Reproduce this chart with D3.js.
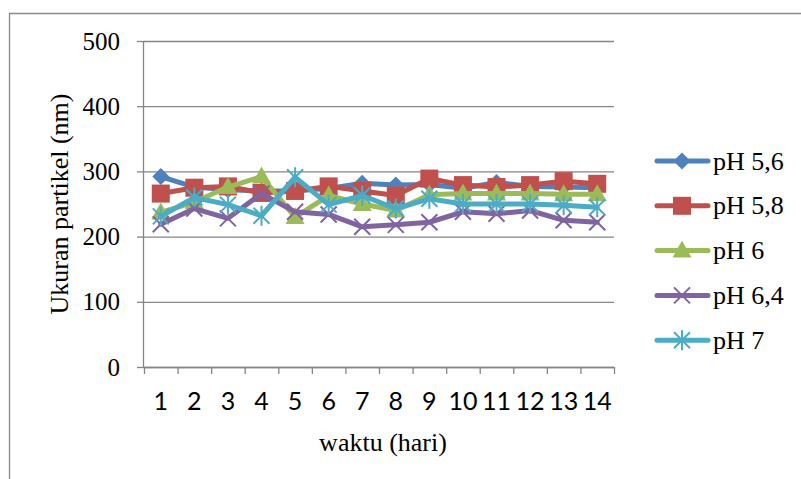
<!DOCTYPE html>
<html>
<head>
<meta charset="utf-8">
<script src="https://cdn.jsdelivr.net/npm/d3@7/dist/d3.min.js"></script>
<style>
  html, body { margin: 0; padding: 0; background: #ffffff; }
  svg { display: block; }
  .serif { font-family: "Liberation Serif", "Times New Roman", Tinos, "DejaVu Serif", serif; }
  .sans { font-family: Lato, "Open Sans", "Liberation Sans", sans-serif; }
</style>
</head>
<body>
<svg id="chart" width="801" height="479"></svg>
<script>
// Particle size (nm) measured over 14 days for five pH levels
const days = [1, 2, 3, 4, 5, 6, 7, 8, 9, 10, 11, 12, 13, 14];
const seriesNames = ["pH 5,6", "pH 5,8", "pH 6", "pH 6,4", "pH 7"];
const ph56 = [292, 276, 272, 270, 270, 274, 282, 279, 280, 274, 283, 277, 276, 275];
const ph58 = [266, 275, 277, 267, 270, 277, 270, 263, 289, 279, 276, 279, 285, 281];
const ph6  = [237, 253, 276, 292, 230, 263, 250, 240, 264, 266, 266, 266, 265, 265];
const ph64 = [219, 243, 228, 266, 238, 234, 215, 218, 222, 238, 235, 240, 225, 222];
const ph7  = [231, 260, 249, 232, 291, 249, 263, 243, 258, 250, 250, 250, 248, 245];
const yTicks = [0, 100, 200, 300, 400, 500];

const colors = ["#4F81BD", "#C0504D", "#9BBB59", "#8064A2", "#4BACC6"];
const shapes = ["diamond", "square", "triangle", "cross", "star"];
const values = [ph56, ph58, ph6, ph64, ph7];
const series = seriesNames.map((name, i) => ({
  name, color: colors[i], shape: shapes[i],
  points: days.map((d, j) => ({ day: d, v: values[i][j] }))
}));

const svg = d3.select("#chart");
const gray = "#868686";

// chart frame (top and left edges visible)
svg.append("path")
  .attr("d", "M9.5,479 V13.5 H801")
  .attr("fill", "none").attr("stroke", "#8a8a8a").attr("stroke-width", 1.3);

const plot = { left: 144, right: 614, top: 41, bottom: 367 };

const x = d3.scaleBand().domain(days).range([plot.left, plot.right]).padding(0);
const xEdges = d3.scaleLinear().domain([0, days.length]).range([plot.left, plot.right]);
const y = d3.scaleLinear().domain([0, 500]).range([plot.bottom, plot.top]);

// horizontal gridlines
svg.append("g")
  .attr("transform", `translate(${plot.left},0)`)
  .call(d3.axisLeft(y).tickValues(yTicks).tickSize(-(plot.right - plot.left)).tickFormat(""))
  .call(g => g.select(".domain").remove())
  .call(g => g.selectAll("line").attr("stroke", gray).attr("stroke-width", 1.3));

// y axis with labels
svg.append("g")
  .attr("transform", `translate(${plot.left},0)`)
  .call(d3.axisLeft(y).tickValues(yTicks).tickSize(7).tickPadding(17))
  .attr("font-family", null).attr("font-size", null)
  .call(g => g.select(".domain").attr("stroke", gray).attr("stroke-width", 1.3)
    .attr("d", `M-0.5,${plot.bottom}V${plot.top}`))
  .call(g => g.selectAll("line").attr("stroke", gray).attr("stroke-width", 1.3))
  .call(g => g.selectAll("text").attr("class", "serif").style("font-size", "25px")
    .attr("fill", "#000"));

// x axis: tick marks at category edges
svg.append("g")
  .attr("transform", `translate(0,${plot.bottom})`)
  .call(d3.axisBottom(xEdges).tickValues(d3.range(days.length + 1)).tickSize(7).tickFormat(""))
  .call(g => g.select(".domain").attr("stroke", gray).attr("stroke-width", 1.3)
    .attr("d", `M${plot.left},0.5H${plot.right}`))
  .call(g => g.selectAll("line").attr("stroke", gray).attr("stroke-width", 1.3));

// x axis: category labels at band centers
svg.append("g")
  .attr("transform", `translate(0,${plot.bottom})`)
  .call(d3.axisBottom(x).tickSize(0).tickPadding(25))
  .attr("font-family", null).attr("font-size", null)
  .call(g => g.select(".domain").remove())
  .call(g => g.selectAll("text").attr("class", "sans").style("font-size", "25px")
    .attr("fill", "#000"));

// axis titles
svg.append("text")
  .attr("class", "serif")
  .attr("x", (plot.left + plot.right) / 2 + 4).attr("y", 451)
  .attr("text-anchor", "middle")
  .style("font-size", "26px").attr("fill", "#000")
  .text("waktu (hari)");

svg.append("text")
  .attr("class", "serif")
  .attr("transform", "translate(68,204) rotate(-90)")
  .attr("text-anchor", "middle")
  .style("font-size", "26px").attr("fill", "#000")
  .text("Ukuran partikel (nm)");

// marker drawing
function drawMarker(sel, shape, color) {
  if (shape === "diamond") {
    sel.append("path").attr("d", "M0,-8.5 L8.5,0 L0,8.5 L-8.5,0 Z").attr("fill", color);
  } else if (shape === "square") {
    sel.append("rect").attr("x", -9).attr("y", -9).attr("width", 18).attr("height", 18)
      .attr("fill", color);
  } else if (shape === "triangle") {
    sel.append("path").attr("d", "M0,-10 L9.5,7 L-9.5,7 Z").attr("fill", color);
  } else if (shape === "cross") {
    sel.append("path").attr("d", "M-8,-8 L8,8 M-8,8 L8,-8")
      .attr("stroke", color).attr("stroke-width", 2).attr("fill", "none");
  } else if (shape === "star") {
    sel.append("path").attr("d", "M-8,-8 L8,8 M-8,8 L8,-8 M0,-10 V10")
      .attr("stroke", color).attr("stroke-width", 2).attr("fill", "none");
  }
}

const line = d3.line()
  .x(d => x(d.day) + x.bandwidth() / 2)
  .y(d => y(d.v));

series.forEach(s => {
  const g = svg.append("g");
  g.append("path")
    .datum(s.points)
    .attr("d", line)
    .attr("fill", "none")
    .attr("stroke", s.color)
    .attr("stroke-width", 5)
    .attr("stroke-linejoin", "round")
    .attr("stroke-linecap", "round");
  g.selectAll("g.mk")
    .data(s.points)
    .join("g")
    .attr("class", "mk")
    .attr("transform", d => `translate(${x(d.day) + x.bandwidth() / 2},${y(d.v)})`)
    .each(function () { drawMarker(d3.select(this), s.shape, s.color); });
});

// legend
const legend = svg.append("g");
series.forEach((s, i) => {
  const cy = 161 + i * 44.8;
  const item = legend.append("g").attr("transform", `translate(0,${cy})`);
  item.append("line")
    .attr("x1", 657).attr("x2", 708).attr("y1", 0).attr("y2", 0)
    .attr("stroke", s.color).attr("stroke-width", 5).attr("stroke-linecap", "round");
  const m = item.append("g").attr("transform", "translate(682,0)");
  drawMarker(m, s.shape, s.color);
  item.append("text")
    .attr("class", "serif")
    .attr("x", 713).attr("y", 8.5)
    .style("font-size", "26px").attr("fill", "#000")
    .text(s.name);
});
</script>
</body>
</html>
